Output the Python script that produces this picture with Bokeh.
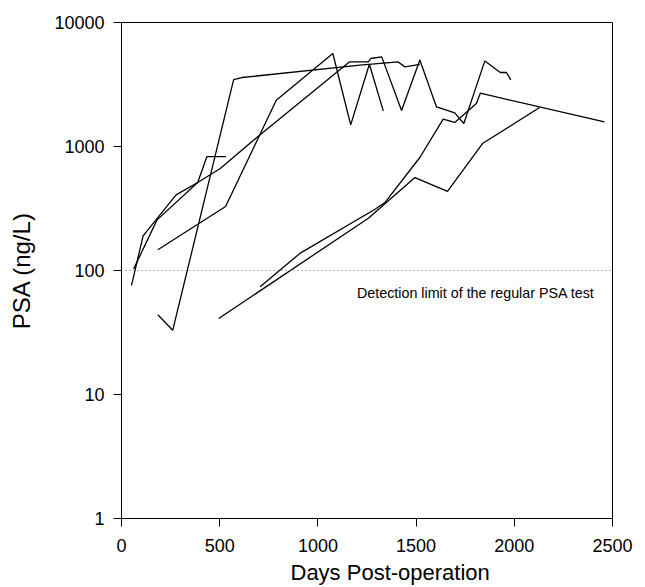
from bokeh.plotting import figure
from bokeh.models import Range1d, FixedTicker, NumeralTickFormatter, Label, Span, Title
from bokeh.embed import file_html
from bokeh.resources import INLINE

# Patient series: days post-operation and PSA (ng/L)
s1_days = [51, 110, 278, 388, 435, 532]
s1_psa = [76, 190, 407, 512, 830, 830]

s2_days = [62, 181, 388, 503, 698, 1160, 1257, 1269, 1325, 1426, 1519, 1604, 1697, 1743, 1850, 1929, 1960, 1982]
s2_psa = [103, 256, 512, 665, 1217, 4810, 4810, 5125, 5280, 1950, 4990, 2085, 1866, 1532, 4900, 3953, 3953, 3445]

s3_days = [185, 530, 788, 1076, 1167, 1262, 1333]
s3_psa = [147, 328, 2360, 5624, 1494, 4610, 1937]

s4_days = [185, 261, 571, 613, 1214, 1409, 1443, 1519]
s4_psa = [44, 33, 3460, 3600, 4525, 4810, 4385, 4600]

s5_days = [495, 1257, 1494, 1660, 1838, 2129]
s5_psa = [41, 264, 562, 434, 1057, 2064]

s6_days = [706, 910, 1291, 1341, 1519, 1638, 1697, 1807, 1827, 2459]
s6_psa = [74, 138, 312, 353, 815, 1660, 1563, 2222, 2690, 1579]

series = [(s1_days, s1_psa), (s2_days, s2_psa), (s3_days, s3_psa),
          (s4_days, s4_psa), (s5_days, s5_psa), (s6_days, s6_psa)]

x_ticks = [0, 500, 1000, 1500, 2000, 2500]
y_ticks = [1, 10, 100, 1000, 10000]
detection_limit = 100
note = "Detection limit of the regular PSA test"
x_title = "Days Post-operation"
y_title = "PSA (ng/L)"

FONT = "Liberation Sans"

p = figure(width=643, height=587, y_axis_type="log",
           x_range=Range1d(0, 2500), y_range=Range1d(1, 10000),
           output_backend="svg", toolbar_location=None,
           min_border_left=121, min_border_right=31,
           min_border_top=22, min_border_bottom=68)

p.xgrid.visible = False
p.ygrid.visible = False
p.outline_line_color = "black"
p.outline_line_width = 1
p.background_fill_color = "white"
p.border_fill_color = "white"

for d, v in series:
    p.line(d, v, line_color="black", line_width=1.3)

p.add_layout(Span(location=detection_limit, dimension="width",
                  line_color="#666666", line_dash="1 3", line_width=1))
p.add_layout(Label(x=1199, y=65.6, text=note, text_font=FONT,
                   text_font_size="14.3px", text_baseline="middle",
                   text_color="black"))

p.xaxis.ticker = FixedTicker(ticks=x_ticks)
p.yaxis.ticker = FixedTicker(ticks=y_ticks, minor_ticks=[])
p.yaxis.formatter = NumeralTickFormatter(format="0")
p.xaxis.minor_tick_line_color = None
p.yaxis.minor_tick_line_color = None

for ax in (p.xaxis[0], p.yaxis[0]):
    ax.axis_line_color = "black"
    ax.major_tick_line_color = "black"
    ax.major_tick_in = 0
    ax.major_tick_out = 8
    ax.major_label_text_font = FONT
    ax.major_label_text_font_size = "18px"
    ax.major_label_text_color = "black"
    ax.axis_label_text_font = FONT
    ax.axis_label_text_font_style = "normal"
    ax.axis_label_text_color = "black"

p.yaxis.axis_label = y_title
p.yaxis.axis_label_text_font_size = "24px"
p.xaxis.major_label_standoff = 12
p.yaxis.major_label_standoff = 9
p.yaxis.axis_label_standoff = 16

p.add_layout(Title(text=x_title, align="left", offset=169, standoff=6,
                   text_font=FONT, text_font_size="22px",
                   text_font_style="normal", text_color="black"), "below")

open("out.html", "w").write(file_html(p, INLINE))
